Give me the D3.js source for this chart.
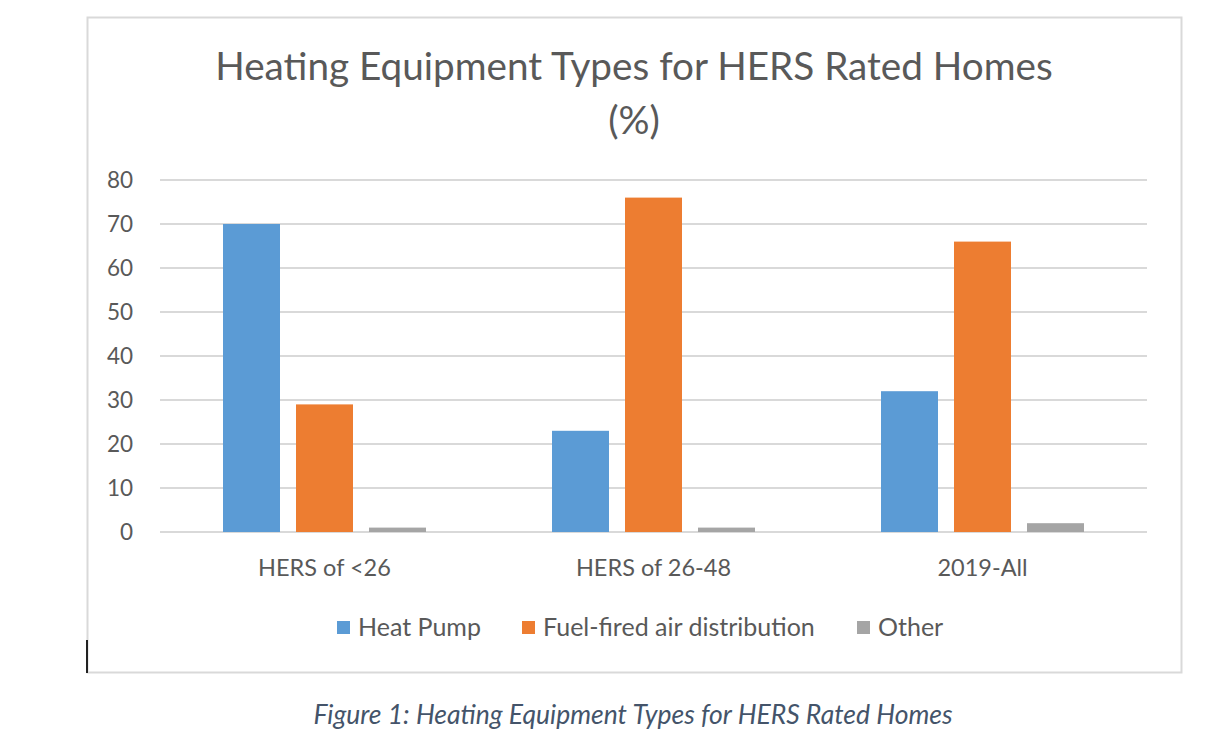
<!DOCTYPE html>
<html><head><meta charset="utf-8">
<script src="https://cdn.jsdelivr.net/npm/d3@7"></script>
<style>body{margin:0;background:#fff}svg{display:block}</style>
</head><body>
<svg id="c" width="1220" height="736"></svg>
<script>
const categories = ["HERS of <26", "HERS of 26-48", "2019-All"];
const seriesNames = ["Heat Pump", "Fuel-fired air distribution", "Other"];
const heatPump = [70, 23, 32];
const fuelFired = [29, 76, 66];
const other = [1, 1, 2];
const yTicks = [0, 10, 20, 30, 40, 50, 60, 70, 80];
const colors = ["#5B9BD5", "#ED7D31", "#A5A5A5"];
const seriesValues = [heatPump, fuelFired, other];

const svg = d3.select("#c");
const font = "Lato, 'Open Sans', sans-serif";
const txt = "#595959";

// chart border
svg.append("rect").attr("x", 87.5).attr("y", 17.5).attr("width", 1094).attr("height", 655)
  .attr("fill", "#fff").attr("stroke", "#D9D9D9").attr("stroke-width", 2);
svg.append("line").attr("x1", 87).attr("x2", 87).attr("y1", 640).attr("y2", 673)
  .attr("stroke", "#222").attr("stroke-width", 2);

// title
svg.append("text").attr("x", 634).attr("y", 80).attr("text-anchor", "middle")
  .attr("font-family", font).attr("font-size", 38.7).attr("fill", txt)
  .text("Heating Equipment Types for HERS Rated Homes");
svg.append("text").attr("x", 634).attr("y", 134).attr("text-anchor", "middle")
  .attr("font-family", font).attr("font-size", 38.7).attr("fill", txt).text("(%)");

const x0 = d3.scaleBand().domain(categories).range([160, 1147]).paddingInner(0).paddingOuter(0);
const x1 = d3.scaleBand().domain(seriesNames).range([63, x0.bandwidth() - 63]).paddingInner(16 / 73).paddingOuter(0);
const y = d3.scaleLinear().domain([0, 80]).range([532, 180]);

// gridlines
svg.append("g").selectAll("line").data(yTicks).join("line")
  .attr("x1", 160).attr("x2", 1147).attr("y1", d => y(d)).attr("y2", d => y(d))
  .attr("stroke", "#D9D9D9").attr("stroke-width", 2);

// y labels
svg.append("g").selectAll("text").data(yTicks).join("text")
  .attr("x", 133).attr("y", d => y(d)).attr("dy", "0.36em").attr("text-anchor", "end")
  .attr("font-family", font).attr("font-size", 22.5).attr("fill", txt).text(d => d);

// bars
const g = svg.append("g");
categories.forEach((c, ci) => {
  seriesNames.forEach((s, si) => {
    const v = seriesValues[si][ci];
    g.append("rect").attr("x", x0(c) + x1(s)).attr("width", x1.bandwidth())
      .attr("y", y(v)).attr("height", y(0) - y(v)).attr("fill", colors[si]);
  });
});

// category labels
svg.append("g").selectAll("text").data(categories).join("text")
  .attr("x", d => x0(d) + x0.bandwidth() / 2).attr("y", 576).attr("text-anchor", "middle")
  .attr("font-family", font).attr("font-size", 23.5).attr("fill", txt).text(d => d);

// legend
const legendX = [337, 522, 857];
seriesNames.forEach((s, i) => {
  svg.append("rect").attr("x", legendX[i]).attr("y", 621).attr("width", 13).attr("height", 13).attr("fill", colors[i]);
  svg.append("text").attr("x", legendX[i] + 21).attr("y", 636).attr("font-family", font)
    .attr("font-size", 25).attr("fill", txt).text(s);
});

// caption
svg.append("text").attr("x", 633).attr("y", 724).attr("text-anchor", "middle")
  .attr("font-family", font).attr("font-style", "italic").attr("font-size", 26.5)
  .attr("fill", "#44546A").text("Figure 1: Heating Equipment Types for HERS Rated Homes");
</script>
</body></html>
